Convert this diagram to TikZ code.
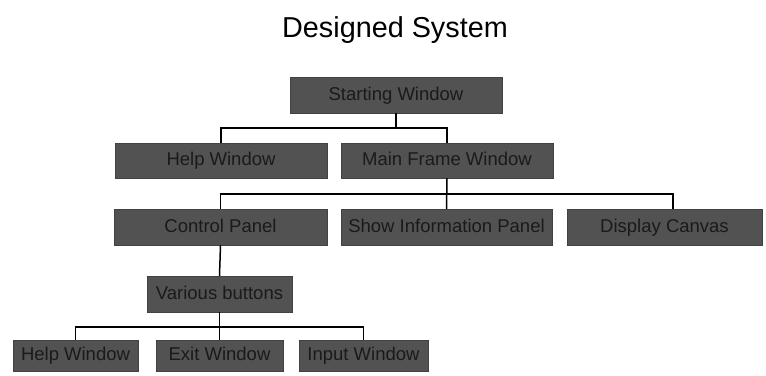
\documentclass[tikz,border=0pt]{standalone}
\usepackage{fontspec}
\setmainfont{Liberation Sans}
\usetikzlibrary{calc}
\definecolor{boxfill}{HTML}{525252}
\definecolor{boxtext}{HTML}{1A1A1A}
\tikzset{
  wbox/.style={rectangle, fill=boxfill, draw=boxfill!80!black, line width=0.4pt,
    text=boxtext, font=\fontsize{18.5}{20}\selectfont, inner sep=0pt,
    text height=13pt, text depth=3pt,
    minimum height=#1},
  wbox/.default=36pt,
  conn/.style={draw=black, line width=1.5pt}
}
\begin{document}
\begin{tikzpicture}[x=1pt,y=-1pt]
\useasboundingbox (0,0) rectangle (766,375);
\node[anchor=base, font=\fontsize{28.8}{32}\selectfont] (title) at (395,37) {Designed System};

\node[wbox, minimum width=212pt] (start) at (396,95) {Starting Window};
\node[wbox=35pt, minimum width=212pt] (help1) at (221,160.5) {Help Window};
\node[wbox=35pt, minimum width=212pt] (main) at (447,160.5) {Main Frame Window};
\node[wbox, minimum width=213pt] (ctrl) at (220.5,227) {Control Panel};
\node[wbox, minimum width=211pt] (info) at (446.5,227) {Show Information Panel};
\node[wbox, minimum width=195pt] (disp) at (664.5,227) {Display Canvas};
\node[wbox, minimum width=145pt] (various) at (219.5,294) {Various buttons};
\node[wbox=31pt, minimum width=125pt] (help2) at (75.5,355.5) {Help Window};
\node[wbox=31pt, minimum width=127pt] (exit) at (219.5,355.5) {Exit Window};
\node[wbox=31pt, minimum width=129pt] (input) at (363.5,355.5) {Input Window};

\coordinate (bus1) at (0,128);
\coordinate (bus2) at (0,194);
\coordinate (bus3) at (0,327);
\coordinate (dispin) at ($(disp.north)+(8.5,0)$);

\draw[conn] (start.south) -- (start.south |- bus1);
\draw[conn] (help1.north) |- (main.north |- bus1) -- (main.north);

\draw[conn] (main.south) -- (info.north);
\draw[conn] (ctrl.north) |- (dispin |- bus2) -- (dispin);

\draw[conn] (ctrl.south) -- (various.north);
\draw[conn] (various.south) -- (exit.north);
\draw[conn] (help2.north) |- (input.north |- bus3) -- (input.north);
\end{tikzpicture}
\end{document}
